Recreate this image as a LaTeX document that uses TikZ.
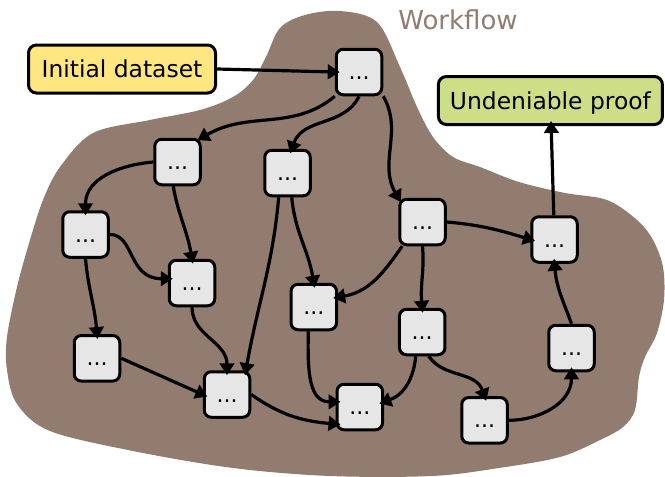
\documentclass[tikz,border=0pt]{standalone}
\usepackage{fontspec}
\setmainfont{DejaVu Sans}
\usepackage{tikz}
\usetikzlibrary{arrows.meta}
\definecolor{blobbrown}{HTML}{917C6F}
\definecolor{stepgray}{HTML}{E6E6E6}
\definecolor{inyellow}{HTML}{FFE680}
\definecolor{outgreen}{HTML}{CDDE87}

\begin{document}
\begin{tikzpicture}[->,>={Triangle[length=12pt,width=14.5pt]}
  ,shorten >=-5pt
  ,x=1pt,y=-1pt,
  line width=3.2pt]
  \tikzstyle{wstep}=[draw,fill=stepgray,rounded corners=7pt,line width=3pt,
    minimum size=45.5pt,inner sep=0pt,font=\fontsize{22}{22}\selectfont,
    text height=15pt,text depth=0pt]
  \tikzstyle{databox}=[draw,rounded corners=8pt,line width=3pt,
    minimum height=48pt,inner sep=0pt,font=\fontsize{23.4}{28}\selectfont,
    text depth=0pt]

  \useasboundingbox (0,0) rectangle (665,477);

  % the workflow area
  \fill[blobbrown,-] plot[smooth cycle,tension=0.55] coordinates {
    (340,11) (377,22) (400,67) (417,107) (433,137) (453,157) (480,167)
    (519,182) (565,193) (607,200) (637,220) (653,240) (663,267) (664,300)
    (657,333) (645,357) (639,377) (635,410) (623,427) (600,440) (560,457)
    (499,468) (432,476) (330,476) (233,468) (133,451) (50,431) (17,404)
    (7,370) (7,337) (17,287) (30,240) (43,200) (60,167) (93,133) (150,120)
    (200,110) (233,97) (253,80) (266,57) (280,28) (305,15)};
  \node[text=blobbrown,font=\fontsize{26}{26}\selectfont,anchor=base]
    (title) at (458,29) {Workflow};

  \node[databox,fill=inyellow,minimum width=187pt] (init) at (122,69) {Initial dataset};
  \node[databox,fill=outgreen,minimum width=224pt] (proof) at (550.4,100.5) {Undeniable proof};

  \node[wstep] (w1)  at (359,72)    {...};
  \node[wstep] (w2)  at (177.5,162) {...};
  \node[wstep] (w3)  at (287.5,173) {...};
  \node[wstep] (w4)  at (85.5,234.5) {...};
  \node[wstep] (w5)  at (192,283)   {...};
  \node[wstep] (w6)  at (422.5,222) {...};
  \node[wstep] (w7)  at (554.5,239.5) {...};
  \node[wstep] (w8)  at (313.8,307) {...};
  \node[wstep] (w9)  at (422.2,332) {...};
  \node[wstep] (w10) at (97,358.3)  {...};
  \node[wstep] (w11) at (571.5,348) {...};
  \node[wstep] (w12) at (227,394.5) {...};
  \node[wstep] (w13) at (359.8,407) {...};
  \node[wstep] (w14) at (484.5,420.3) {...};

  \path
  (init.east) edge (w1.west)
  (w1.south west) edge [out=-140,in=30] (w2.north east)
  (w1.south) edge [out=-115,in=70] (w3.80)
  (w1.south east) edge [out=-60,in=120] (w6.north west)
  (w2.west) edge [out=185,in=90] (w4.north)
  (w2.-100) edge [out=-80,in=100] (w5.north)
  (w3.-110) edge [out=-95,in=80] (w12.52)
  (w3.-80) edge [out=-85,in=100] (w8.north)
  (w4.east) edge [out=0,in=180,out distance=25pt,in distance=40pt] (w5.170)
  (w4.south) edge [out=-85,in=95] (w10.north)
  (w5.south) edge [out=-90,in=90] (w12.north)
  (w10.east) edge (w12.west)
  (w8.-103) edge [out=-90,in=180] (w13.168)
  (w12.east) edge [out=-35,in=175] (w13.215)
  (w6.230) edge [out=-125,in=10] (w8.22)
  (w6.south) edge [out=-85,in=95] (w9.north)
  (w6.east) edge [out=-5,in=163] (w7.west)
  (w9.-105) edge [out=-95,in=20] (w13.12)
  (w9.-75) edge [out=-55,in=110] (w14.north)
  (w14.east) edge [out=0,in=-90] (w11.south)
  (w11.north) edge [out=110,in=-85] (w7.south)
  (w7) edge (proof)
  ;

\end{tikzpicture}
\end{document}
